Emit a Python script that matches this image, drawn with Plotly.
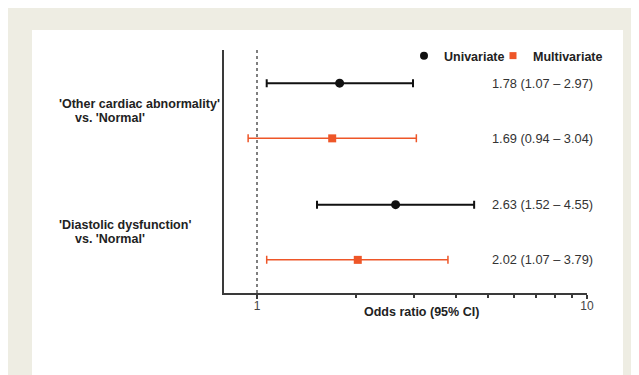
import plotly.graph_objects as go

# ---- data ----
groups = ["'Other cardiac abnormality'", "'Diastolic dysfunction'"]
group_sub = ["vs. 'Normal'", "vs. 'Normal'"]
uni_or = [1.78, 2.63]
uni_lo = [1.07, 1.52]
uni_hi = [2.97, 4.55]
multi_or = [1.69, 2.02]
multi_lo = [0.94, 1.07]
multi_hi = [3.04, 3.79]
# row positions on the (hidden) y axis
uni_pos = [3.8, 1.6]
multi_pos = [2.8, 0.6]
x_ticks = [1, 10]
x_minor = [2, 3, 4, 5, 6, 7, 8, 9]

BLACK = "#111111"
ORANGE = "#ee5628"
AXIS = "#3a3a3a"
FONT = "Liberation Sans"

# page body has an 8px margin: figure drawn from (8, 8)
OFF = 8
W, H = 639 - OFF, 375 - OFF
# plot area in window pixel coords
PX0, PX1, PY0, PY1 = 224, 587, 50, 293
ml, mr, mt, mb = PX0 - OFF, 639 - PX1, PY0 - OFF, 375 - PY1
pw, ph = PX1 - PX0, PY1 - PY0

def px_x(p):
    return (p - PX0) / pw

def px_y(p):
    return (PY1 - p) / ph

fig = go.Figure()

# reference line at OR = 1
fig.add_trace(go.Scatter(x=[1, 1], y=[0, 4.45], mode="lines",
                         line=dict(color="#555555", width=1.5, dash="dot"),
                         showlegend=False, hoverinfo="skip", cliponaxis=False))

fig.add_trace(go.Scatter(
    x=uni_or, y=uni_pos, mode="markers", name="Univariate",
    marker=dict(symbol="circle", size=9, color=BLACK),
    error_x=dict(type="data", symmetric=False,
                 array=[h - o for h, o in zip(uni_hi, uni_or)],
                 arrayminus=[o - l for o, l in zip(uni_or, uni_lo)],
                 color=BLACK, thickness=2, width=4),
    showlegend=False))

fig.add_trace(go.Scatter(
    x=multi_or, y=multi_pos, mode="markers", name="Multivariate",
    marker=dict(symbol="square", size=8, color=ORANGE),
    error_x=dict(type="data", symmetric=False,
                 array=[h - o for h, o in zip(multi_hi, multi_or)],
                 arrayminus=[o - l for o, l in zip(multi_or, multi_lo)],
                 color=ORANGE, thickness=1.5, width=4),
    showlegend=False))

# legend-only entries (two legends for tight spacing)
fig.add_trace(go.Scatter(x=[None], y=[None], mode="markers", name="Univariate",
                         marker=dict(symbol="circle", size=8, color=BLACK),
                         legend="legend"))
fig.add_trace(go.Scatter(x=[None], y=[None], mode="markers", name="Multivariate",
                         marker=dict(symbol="square", size=7, color=ORANGE),
                         legend="legend2"))

annotations = []
for o, l, h, p in list(zip(uni_or, uni_lo, uni_hi, uni_pos)) + list(zip(multi_or, multi_lo, multi_hi, multi_pos)):
    annotations.append(dict(xref="paper", yref="y", x=px_x(490), y=p,
                            text=f"{o:.2f} ({l:.2f} \u2013 {h:.2f})",
                            showarrow=False, xanchor="left", yanchor="middle",
                            font=dict(family=FONT, size=12.8, color="#333333")))
for g, s, a, b in zip(groups, group_sub, uni_pos, multi_pos):
    c = (a + b) / 2
    annotations.append(dict(xref="paper", yref="y", x=px_x(57), y=c, yshift=7,
                            text=g, showarrow=False, xanchor="left", yanchor="middle",
                            font=dict(family=FONT, size=12.5, color="#222222", weight="bold")))
    annotations.append(dict(xref="paper", yref="y", x=px_x(73), y=c, yshift=-7,
                            text=s, showarrow=False, xanchor="left", yanchor="middle",
                            font=dict(family=FONT, size=12.5, color="#222222", weight="bold")))
annotations.append(dict(xref="paper", yref="paper", x=px_x(421), y=px_y(312),
                        text="Odds ratio (95% CI)", showarrow=False,
                        xanchor="center", yanchor="middle",
                        font=dict(family=FONT, size=12.5, color="#222222", weight="bold")))

shapes = [
    dict(type="rect", xref="paper", yref="paper", layer="below",
         x0=px_x(7), x1=px_x(633), y0=px_y(380), y1=px_y(5),
         fillcolor="#eeede3", line=dict(width=0)),
    dict(type="rect", xref="paper", yref="paper", layer="below",
         x0=px_x(32), x1=px_x(623), y0=px_y(380), y1=px_y(30),
         fillcolor="#ffffff", line=dict(width=0)),
]

legend_common = dict(orientation="h", xref="paper", yref="paper",
                     xanchor="left", yanchor="middle",
                     font=dict(family=FONT, size=12.5, color="#222222", weight="bold"),
                     bgcolor="rgba(0,0,0,0)", borderwidth=0, itemwidth=30)

fig.update_layout(
    width=W, height=H,
    margin=dict(l=ml, r=mr, t=mt, b=mb),
    paper_bgcolor="#ffffff", plot_bgcolor="rgba(0,0,0,0)",
    font=dict(family=FONT, color="#333333"),
    annotations=annotations, shapes=shapes,
    legend=dict(x=px_x(404), y=px_y(56), **legend_common),
    legend2=dict(x=px_x(493), y=px_y(56), **legend_common),
    xaxis=dict(type="log", range=[-0.1, 1.0], showgrid=False, zeroline=False,
               showline=True, linecolor=AXIS, linewidth=2,
               tickmode="array", tickvals=x_ticks, ticktext=[str(t) for t in x_ticks],
               ticks="outside", ticklen=4, tickwidth=1.5, tickcolor=AXIS,
               ticklabelstandoff=-3,
               tickfont=dict(family=FONT, size=12, color="#444444"),
               minor=dict(tickmode="array", tickvals=x_minor, ticks="outside",
                          ticklen=3, tickwidth=1.5, tickcolor=AXIS, showgrid=False)),
    yaxis=dict(range=[0, 4.4], showgrid=False, zeroline=False,
               showline=True, linecolor=AXIS, linewidth=2,
               showticklabels=False, ticks=""),
)

fig.write_html("out.html")
